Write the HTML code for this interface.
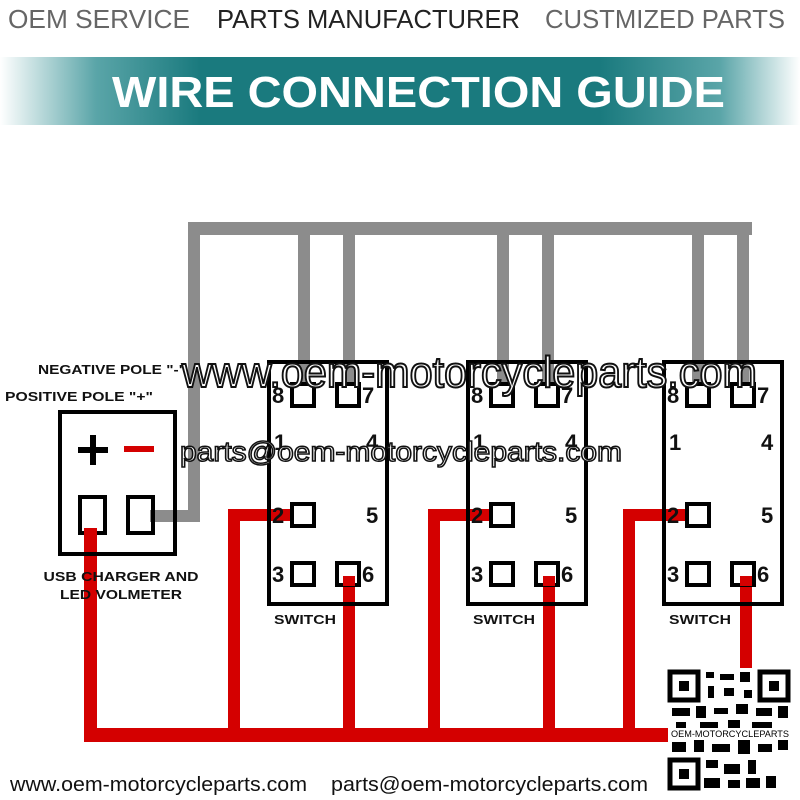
<!DOCTYPE html>
<html><head><meta charset="utf-8"><style>
html,body{margin:0;padding:0;background:#fff;}
svg{display:block;}
text{font-family:"Liberation Sans",Arial,sans-serif;}
</style></head><body>
<svg width="800" height="800" viewBox="0 0 800 800" xmlns="http://www.w3.org/2000/svg">
<defs>
<linearGradient id="bn" x1="0" x2="1" y1="0" y2="0">
<stop offset="0" stop-color="#ffffff"/>
<stop offset="0.12" stop-color="#5aa5a8"/>
<stop offset="0.25" stop-color="#1a7a7e"/>
<stop offset="0.75" stop-color="#1a7a7e"/>
<stop offset="0.9" stop-color="#5aa5a8"/>
<stop offset="1" stop-color="#ffffff"/>
</linearGradient>
</defs>
<rect width="800" height="800" fill="#fff"/>
<!-- header -->
<text x="8" y="28" font-size="26" fill="#666" textLength="182" lengthAdjust="spacingAndGlyphs">OEM SERVICE</text>
<text x="217" y="28" font-size="26" fill="#222" textLength="303" lengthAdjust="spacingAndGlyphs">PARTS MANUFACTURER</text>
<text x="545" y="28" font-size="26" fill="#666" textLength="240" lengthAdjust="spacingAndGlyphs">CUSTMIZED PARTS</text>
<rect x="0" y="57" width="800" height="68" fill="url(#bn)"/>
<text x="112" y="107" font-size="44" font-weight="bold" fill="#fff" textLength="613" lengthAdjust="spacingAndGlyphs">WIRE CONNECTION GUIDE</text>

<!-- gray wires -->
<g fill="#8c8c8c">
<rect x="188" y="222" width="564" height="13"/>
<rect x="188" y="222" width="12" height="300"/>
<rect x="150" y="510" width="50" height="12"/>
<rect x="298" y="222" width="12" height="163"/>
<rect x="343" y="222" width="12" height="163"/>
<rect x="497" y="222" width="12" height="163"/>
<rect x="542" y="222" width="12" height="163"/>
<rect x="692" y="222" width="12" height="163"/>
<rect x="737" y="222" width="12" height="163"/>
</g>

<!-- red wires -->
<g fill="#d40000">
<rect x="84" y="728" width="600" height="14"/>
<rect x="84" y="528" width="13" height="214"/>
<rect x="228" y="509" width="12" height="233"/>
<rect x="228" y="509" width="64" height="12"/>
<rect x="343" y="580" width="12" height="160"/>
<rect x="428" y="509" width="12" height="233"/>
<rect x="428" y="509" width="64" height="12"/>
<rect x="543" y="580" width="12" height="160"/>
<rect x="623" y="509" width="12" height="233"/>
<rect x="623" y="509" width="64" height="12"/>
<rect x="740" y="580" width="12" height="90"/>
</g>

<!-- USB box -->
<rect x="60" y="412" width="115" height="142" fill="none" stroke="#000" stroke-width="4"/>
<rect x="80" y="497" width="25" height="36" fill="none" stroke="#000" stroke-width="4"/>
<rect x="128" y="497" width="25" height="36" fill="none" stroke="#000" stroke-width="4"/>
<rect x="78" y="447" width="30" height="6" fill="#000"/>
<rect x="90" y="435" width="6" height="30" fill="#000"/>
<rect x="124" y="446" width="30" height="6" fill="#d40000"/>
<rect x="84" y="528" width="13" height="10" fill="#d40000"/>
<text x="38" y="374" font-size="13" font-weight="bold" fill="#111" textLength="148" lengthAdjust="spacingAndGlyphs">NEGATIVE POLE "-"</text>
<text x="5" y="401" font-size="13" font-weight="bold" fill="#111" textLength="148" lengthAdjust="spacingAndGlyphs">POSITIVE POLE "+"</text>
<text x="121" y="581" font-size="13" font-weight="bold" fill="#111" text-anchor="middle" textLength="155" lengthAdjust="spacingAndGlyphs">USB CHARGER AND</text>
<text x="121" y="599" font-size="13" font-weight="bold" fill="#111" text-anchor="middle" textLength="122" lengthAdjust="spacingAndGlyphs">LED VOLMETER</text>

<!-- switches -->
<g id="sw">
<rect x="269" y="362" width="118" height="242" fill="none" stroke="#000" stroke-width="4"/>
<g fill="#fff" stroke="#000" stroke-width="4">
<rect x="292" y="384" width="22" height="22"/>
<rect x="337" y="384" width="22" height="22"/>
<rect x="292" y="504" width="22" height="22"/>
<rect x="292" y="563" width="22" height="22"/>
<rect x="337" y="563" width="22" height="22"/>
</g>
<g font-size="22" font-weight="bold" fill="#111">
<text x="272" y="403">8</text><text x="362" y="403">7</text>
<text x="274" y="450">1</text><text x="366" y="450">4</text>
<text x="272" y="523">2</text><text x="366" y="523">5</text>
<text x="272" y="582">3</text><text x="362" y="582">6</text>
</g>
<text x="274" y="624" font-size="13" font-weight="bold" fill="#111" textLength="62" lengthAdjust="spacingAndGlyphs">SWITCH</text>
</g>
<use href="#sw" x="199"/>
<use href="#sw" x="395"/>
<rect x="343" y="576" width="12" height="10" fill="#d40000"/>
<rect x="543" y="576" width="12" height="10" fill="#d40000"/>
<rect x="740" y="576" width="12" height="10" fill="#d40000"/>

<!-- watermarks -->
<text x="182" y="387" font-size="44" fill="#fff" stroke="#111" stroke-width="2" textLength="575" lengthAdjust="spacingAndGlyphs">www.oem-motorcycleparts.com</text>
<text x="180" y="461" font-size="28" fill="#fff" stroke="#111" stroke-width="1.5" textLength="442" lengthAdjust="spacingAndGlyphs">parts@oem-motorcycleparts.com</text>

<!-- QR -->
<g>
<rect x="668" y="668" width="124" height="124" fill="#fff"/>
<rect x="670" y="672" width="28" height="28" fill="none" stroke="#000" stroke-width="5"/>
<rect x="679" y="681" width="10" height="10" fill="#000"/>
<rect x="760" y="672" width="28" height="28" fill="none" stroke="#000" stroke-width="5"/>
<rect x="769" y="681" width="10" height="10" fill="#000"/>
<rect x="670" y="760" width="28" height="28" fill="none" stroke="#000" stroke-width="5"/>
<rect x="679" y="769" width="10" height="10" fill="#000"/>
<g fill="#000">
<rect x="706" y="672" width="8" height="6"/><rect x="720" y="674" width="14" height="6"/><rect x="740" y="672" width="10" height="10"/>
<rect x="708" y="686" width="6" height="12"/><rect x="724" y="688" width="10" height="8"/><rect x="744" y="690" width="8" height="8"/>
<rect x="672" y="708" width="18" height="8"/><rect x="696" y="706" width="10" height="12"/><rect x="714" y="708" width="14" height="6"/><rect x="736" y="704" width="12" height="10"/><rect x="756" y="708" width="16" height="8"/><rect x="778" y="706" width="10" height="12"/>
<rect x="676" y="722" width="10" height="6"/><rect x="700" y="722" width="18" height="6"/><rect x="728" y="720" width="12" height="8"/><rect x="752" y="722" width="20" height="6"/>
<rect x="672" y="742" width="14" height="10"/><rect x="694" y="740" width="10" height="12"/><rect x="712" y="744" width="18" height="8"/><rect x="738" y="740" width="12" height="14"/><rect x="758" y="744" width="14" height="8"/><rect x="778" y="740" width="10" height="10"/>
<rect x="706" y="760" width="12" height="8"/><rect x="724" y="764" width="16" height="10"/><rect x="748" y="760" width="8" height="14"/>
<rect x="704" y="778" width="16" height="10"/><rect x="728" y="780" width="12" height="8"/><rect x="746" y="778" width="14" height="10"/><rect x="766" y="776" width="10" height="12"/>
</g>
<rect x="669" y="729" width="122" height="9" fill="#fff"/>
<text x="730" y="737" font-size="9" font-family="Liberation Serif,serif" fill="#000" text-anchor="middle" textLength="118" lengthAdjust="spacingAndGlyphs">OEM-MOTORCYCLEPARTS</text>
</g>

<!-- footer -->
<text x="10" y="791" font-size="20" fill="#111" textLength="297" lengthAdjust="spacingAndGlyphs">www.oem-motorcycleparts.com</text>
<text x="331" y="791" font-size="20" fill="#111" textLength="317" lengthAdjust="spacingAndGlyphs">parts@oem-motorcycleparts.com</text>
</svg>
</body></html>
